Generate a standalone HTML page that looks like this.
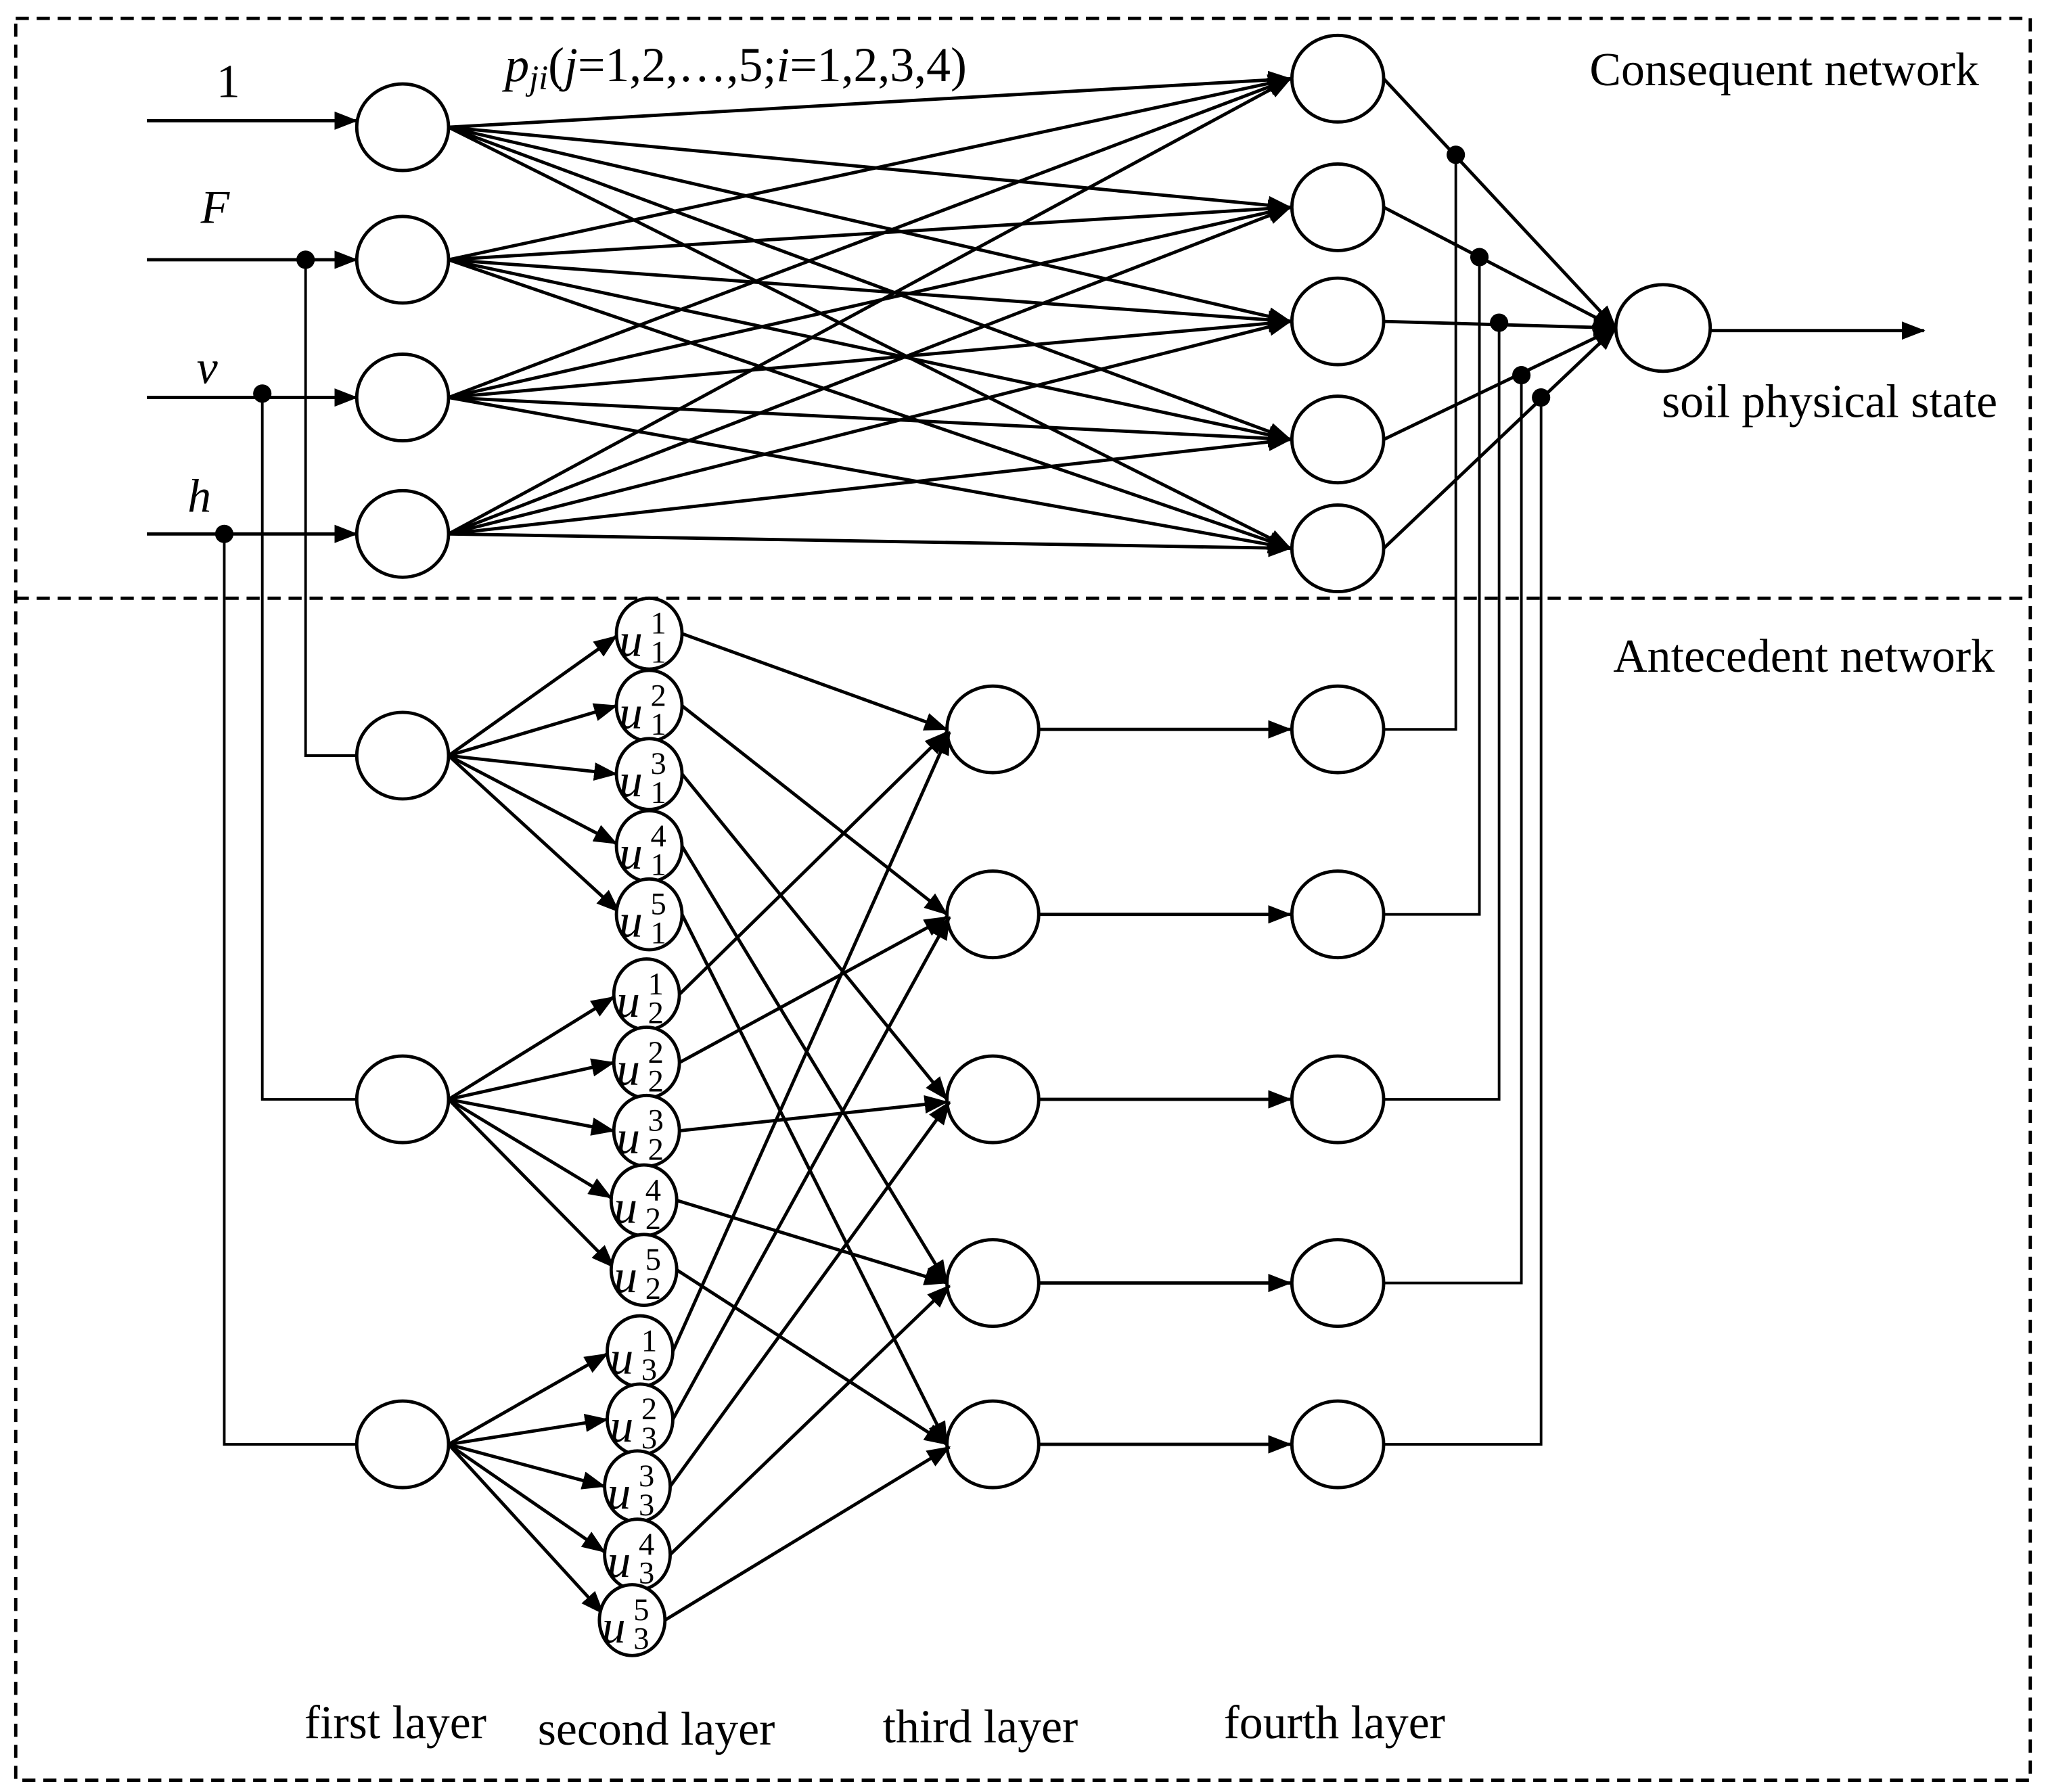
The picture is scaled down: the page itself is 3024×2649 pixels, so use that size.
<!DOCTYPE html>
<html><head><meta charset="utf-8"><style>html,body{margin:0;padding:0;background:#fff}svg{display:block}</style></head>
<body>
<svg width="3024" height="2649" viewBox="0 0 1560 1366" preserveAspectRatio="none" xmlns="http://www.w3.org/2000/svg" font-family="'Liberation Serif', serif">
<defs>
<marker id="a" markerUnits="userSpaceOnUse" markerWidth="18" markerHeight="14" refX="17" refY="7" orient="auto"><path d="M0,0 L18,7 L0,14 Z" fill="#000"/></marker>
</defs>
<rect x="12" y="14" width="1536" height="1343" fill="none" stroke="#000" stroke-width="2.5" stroke-dasharray="10,6"/>
<line x1="12" y1="456" x2="1548" y2="456" stroke="#000" stroke-width="2.5" stroke-dasharray="10,6"/>
<g fill="none" stroke="#000" stroke-width="2.5">
<line x1="112" y1="92" x2="272" y2="92" marker-end="url(#a)"/>
<line x1="112" y1="198" x2="272" y2="198" marker-end="url(#a)"/>
<line x1="112" y1="303" x2="272" y2="303" marker-end="url(#a)"/>
<line x1="112" y1="407" x2="272" y2="407" marker-end="url(#a)"/>
<polyline points="233,198 233,576 272,576" stroke-width="2"/>
<polyline points="200,300 200,838 272,838" stroke-width="2"/>
<polyline points="171,407 171,1101 272,1101" stroke-width="2"/>
<ellipse cx="307" cy="97" rx="35" ry="33"/>
<ellipse cx="307" cy="198" rx="35" ry="33"/>
<ellipse cx="307" cy="303" rx="35" ry="33"/>
<ellipse cx="307" cy="407" rx="35" ry="33"/>
<ellipse cx="1020" cy="60" rx="35" ry="33"/>
<ellipse cx="1020" cy="158" rx="35" ry="33"/>
<ellipse cx="1020" cy="245" rx="35" ry="33"/>
<ellipse cx="1020" cy="335" rx="35" ry="33"/>
<ellipse cx="1020" cy="418" rx="35" ry="33"/>
<ellipse cx="1268" cy="250" rx="36" ry="33"/>
<g marker-end="url(#a)">
<line x1="342" y1="97" x2="984" y2="60"/><line x1="342" y1="97" x2="984" y2="158"/><line x1="342" y1="97" x2="984" y2="245"/><line x1="342" y1="97" x2="984" y2="335"/><line x1="342" y1="97" x2="984" y2="418"/>
<line x1="342" y1="198" x2="984" y2="60"/><line x1="342" y1="198" x2="984" y2="158"/><line x1="342" y1="198" x2="984" y2="245"/><line x1="342" y1="198" x2="984" y2="335"/><line x1="342" y1="198" x2="984" y2="418"/>
<line x1="342" y1="303" x2="984" y2="60"/><line x1="342" y1="303" x2="984" y2="158"/><line x1="342" y1="303" x2="984" y2="245"/><line x1="342" y1="303" x2="984" y2="335"/><line x1="342" y1="303" x2="984" y2="418"/>
<line x1="342" y1="407" x2="984" y2="60"/><line x1="342" y1="407" x2="984" y2="158"/><line x1="342" y1="407" x2="984" y2="245"/><line x1="342" y1="407" x2="984" y2="335"/><line x1="342" y1="407" x2="984" y2="418"/>
<line x1="1055" y1="60" x2="1232" y2="250"/><line x1="1055" y1="158" x2="1232" y2="250"/><line x1="1055" y1="245" x2="1232" y2="250"/><line x1="1055" y1="335" x2="1232" y2="250"/><line x1="1055" y1="418" x2="1232" y2="250"/>
<line x1="1305" y1="252" x2="1467" y2="252"/>
</g>
<g stroke-width="2">
<polyline points="1055,556 1110,556 1110,118"/>
<polyline points="1055,697 1128,697 1128,196"/>
<polyline points="1055,838 1143,838 1143,246"/>
<polyline points="1055,978 1160,978 1160,286"/>
<polyline points="1055,1101 1175,1101 1175,303"/>
</g>
<ellipse cx="307" cy="576" rx="35" ry="33"/>
<ellipse cx="307" cy="838" rx="35" ry="33"/>
<ellipse cx="307" cy="1101" rx="35" ry="33"/>
<ellipse cx="757" cy="556" rx="35" ry="33"/><ellipse cx="757" cy="697" rx="35" ry="33"/><ellipse cx="757" cy="838" rx="35" ry="33"/><ellipse cx="757" cy="978" rx="35" ry="33"/><ellipse cx="757" cy="1101" rx="35" ry="33"/>
<ellipse cx="1020" cy="556" rx="35" ry="33"/><ellipse cx="1020" cy="697" rx="35" ry="33"/><ellipse cx="1020" cy="838" rx="35" ry="33"/><ellipse cx="1020" cy="978" rx="35" ry="33"/><ellipse cx="1020" cy="1101" rx="35" ry="33"/>
<g marker-end="url(#a)">
<line x1="792" y1="556" x2="984" y2="556"/><line x1="792" y1="697" x2="984" y2="697"/><line x1="792" y1="838" x2="984" y2="838"/><line x1="792" y1="978" x2="984" y2="978"/><line x1="792" y1="1101" x2="984" y2="1101"/>
<line x1="342" y1="576" x2="470" y2="485"/><line x1="342" y1="576" x2="470" y2="538"/><line x1="342" y1="576" x2="470" y2="590"/><line x1="342" y1="576" x2="470" y2="643"/><line x1="342" y1="576" x2="472" y2="695"/>
<line x1="342" y1="838" x2="468" y2="760"/><line x1="342" y1="838" x2="468" y2="810"/><line x1="342" y1="838" x2="468" y2="862"/><line x1="342" y1="838" x2="466" y2="913"/><line x1="342" y1="838" x2="468" y2="966"/>
<line x1="342" y1="1101" x2="463" y2="1032"/><line x1="342" y1="1101" x2="463" y2="1082"/><line x1="342" y1="1101" x2="461" y2="1133"/><line x1="342" y1="1101" x2="461" y2="1183"/><line x1="342" y1="1101" x2="460" y2="1230"/>
<line x1="520" y1="483" x2="722" y2="556"/><line x1="520" y1="538" x2="722" y2="697"/><line x1="520" y1="590" x2="722" y2="838"/><line x1="520" y1="645" x2="722" y2="978"/><line x1="520" y1="697" x2="722" y2="1101"/>
<line x1="518" y1="758" x2="722" y2="558"/><line x1="518" y1="810" x2="722" y2="699"/><line x1="518" y1="862" x2="722" y2="840"/><line x1="516" y1="915" x2="722" y2="978"/><line x1="516" y1="968" x2="722" y2="1101"/>
<line x1="513" y1="1030" x2="724" y2="558"/><line x1="513" y1="1082" x2="724" y2="699"/><line x1="511" y1="1133" x2="724" y2="840"/><line x1="511" y1="1185" x2="724" y2="980"/><line x1="507" y1="1235" x2="724" y2="1103"/>
</g>
</g>
<g fill="#000">
<circle cx="233" cy="198" r="7"/><circle cx="200" cy="300" r="7"/><circle cx="171" cy="407" r="7"/>
<circle cx="1110" cy="118" r="7"/><circle cx="1128" cy="196" r="7"/><circle cx="1143" cy="246" r="7"/><circle cx="1160" cy="286" r="7"/><circle cx="1175" cy="303" r="7"/>
</g>
<g fill="#fff" stroke="#000" stroke-width="2.5">
<ellipse cx="495" cy="483" rx="25" ry="27"/><ellipse cx="495" cy="538" rx="25" ry="27"/><ellipse cx="495" cy="590" rx="25" ry="27"/><ellipse cx="495" cy="645" rx="25" ry="27"/><ellipse cx="495" cy="697" rx="25" ry="27"/>
<ellipse cx="493" cy="758" rx="25" ry="27"/><ellipse cx="493" cy="810" rx="25" ry="27"/><ellipse cx="493" cy="862" rx="25" ry="27"/><ellipse cx="491" cy="915" rx="25" ry="27"/><ellipse cx="491" cy="968" rx="25" ry="27"/>
<ellipse cx="488" cy="1030" rx="25" ry="27"/><ellipse cx="488" cy="1082" rx="25" ry="27"/><ellipse cx="486" cy="1133" rx="25" ry="27"/><ellipse cx="486" cy="1185" rx="25" ry="27"/><ellipse cx="482" cy="1235" rx="25" ry="27"/>
</g>
<g font-size="36">
<g font-style="italic">
<text x="472" y="500">u</text><text x="472" y="555">u</text><text x="472" y="607">u</text><text x="472" y="662">u</text><text x="472" y="714">u</text>
<text x="470" y="775">u</text><text x="470" y="827">u</text><text x="470" y="879">u</text><text x="468" y="932">u</text><text x="468" y="985">u</text>
<text x="465" y="1047">u</text><text x="465" y="1099">u</text><text x="463" y="1150">u</text><text x="463" y="1202">u</text><text x="459" y="1252">u</text>
</g>
<g font-size="24">
<text x="496" y="483">1</text><text x="496" y="505">1</text>
<text x="496" y="538">2</text><text x="496" y="560">1</text>
<text x="496" y="590">3</text><text x="496" y="612">1</text>
<text x="496" y="645">4</text><text x="496" y="667">1</text>
<text x="496" y="697">5</text><text x="496" y="719">1</text>
<text x="494" y="758">1</text><text x="494" y="780">2</text>
<text x="494" y="810">2</text><text x="494" y="832">2</text>
<text x="494" y="862">3</text><text x="494" y="884">2</text>
<text x="492" y="915">4</text><text x="492" y="937">2</text>
<text x="492" y="968">5</text><text x="492" y="990">2</text>
<text x="489" y="1030">1</text><text x="489" y="1052">3</text>
<text x="489" y="1082">2</text><text x="489" y="1104">3</text>
<text x="487" y="1133">3</text><text x="487" y="1155">3</text>
<text x="487" y="1185">4</text><text x="487" y="1207">3</text>
<text x="483" y="1235">5</text><text x="483" y="1257">3</text>
</g>
</g>
<g font-size="36">
<text x="165" y="74">1</text>
<text x="153" y="170" font-style="italic">F</text>
<text x="150" y="292" font-style="italic">v</text>
<text x="143" y="390" font-style="italic">h</text>
<text x="385" y="62" font-size="37"><tspan font-style="italic">p</tspan><tspan font-style="italic" font-size="26" dy="6">ji</tspan><tspan dy="-6">(</tspan><tspan font-style="italic">j</tspan>=1,2,…,5;<tspan font-style="italic">i</tspan>=1,2,3,4)</text>
<text x="1212" y="65">Consequent network</text>
<text x="1267" y="318">soil physical state</text>
<text x="1230" y="512">Antecedent network</text>
<text x="232" y="1325">first layer</text>
<text x="410" y="1330">second layer</text>
<text x="673" y="1328">third layer</text>
<text x="933" y="1325">fourth layer</text>
</g>
</svg>
</body></html>
